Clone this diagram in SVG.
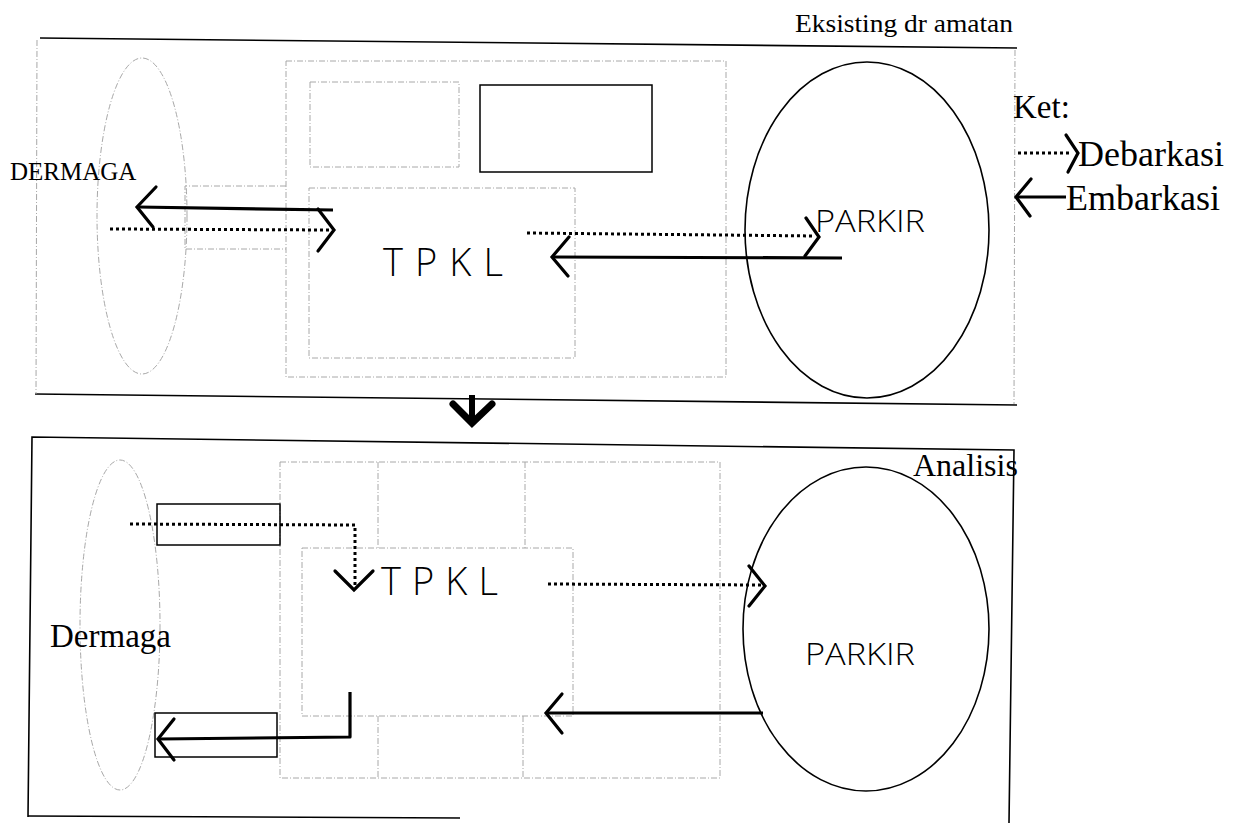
<svg xmlns="http://www.w3.org/2000/svg" width="1246" height="823" viewBox="0 0 1246 823">
<style>
.faint{fill:none;stroke:#a8a8a8;stroke-width:1;stroke-dasharray:6 2 1 2}
.thin{fill:none;stroke:#000;stroke-width:1.5}
.frame{fill:none;stroke:#000;stroke-width:1.6}
.solid{fill:none;stroke:#000;stroke-width:3.2;stroke-linejoin:round}
.dot{fill:none;stroke:#000;stroke-width:3;stroke-dasharray:3 3}
.head{fill:none;stroke:#000;stroke-width:3.2;stroke-linecap:round;stroke-linejoin:miter}
.serif{font-family:"Liberation Serif","Times New Roman",serif;fill:#000}
.hand{font-family:"Open Sans","DejaVu Sans",sans-serif;font-weight:300;fill:#000}
</style>
<rect width="1246" height="823" fill="#fff"/>
<g id="top-frame">
<path class="frame" d="M40 38 L1017 48"/>
<path class="frame" d="M35 394 L1017 405"/>
<path class="faint" d="M37 40 L36 394"/>
<path class="faint" d="M1015 50 L1014 404"/>
<text class="serif" x="795" y="32" font-size="26" textLength="218" lengthAdjust="spacingAndGlyphs">Eksisting dr amatan</text>
</g>
<g id="dermaga-top">
<ellipse class="faint" cx="142" cy="216" rx="45" ry="158"/>
<text class="serif" x="10" y="180" font-size="25">DERMAGA</text>
</g>
<g id="building-top">
<rect class="faint" x="286" y="61" width="440" height="316"/>
<rect class="faint" x="310" y="82" width="149" height="85"/>
<rect class="thin" x="480" y="85" width="172" height="87"/>
<path class="faint" d="M286 186 L185 186 L185 249 L286 249"/>
</g>
<g id="tpkl-top">
<rect class="faint" x="309" y="188" width="266" height="170"/>
<text class="hand" x="383" y="276" font-size="38" textLength="120" lengthAdjust="spacing">T P K L</text>
</g>
<g id="parkir-top">
<ellipse class="frame" cx="867" cy="230" rx="122" ry="168"/>
<text class="hand" x="815" y="232" font-size="32" textLength="110" lengthAdjust="spacingAndGlyphs">PARKIR</text>
</g>
<g id="legend">
<text class="serif" x="1013" y="118" font-size="33">Ket:</text>
<path class="dot" d="M1018 153 L1072 153" stroke-width="2.5" stroke-dasharray="2.5 2.5"/>
<path class="head" d="M1066 135 L1078 153 L1068 172"/>
<text class="serif" x="1078" y="166" font-size="36">Debarkasi</text>
<path class="solid" d="M1016 197 L1066 197" stroke-width="2.5"/>
<path class="head" d="M1031 179 L1016 197 L1030 216"/>
<text class="serif" x="1066" y="210" font-size="36">Embarkasi</text>
</g>
<g id="bottom-frame">
<path class="frame" d="M28 817 L32 437 L1014 450 L1009 823"/>
<path class="frame" d="M28 816 L460 818"/>
<text class="serif" x="913" y="476" font-size="32">Analisis</text>
</g>
<g id="dermaga-bottom">
<ellipse class="faint" cx="120" cy="625" rx="40" ry="165"/>
<text class="serif" x="50" y="647" font-size="33">Dermaga</text>
</g>
<g id="building-bottom">
<rect class="faint" x="280" y="462" width="440" height="316"/>
<path class="faint" d="M378 462 L378 548 M525 462 L525 548 M378 716 L378 778 M523 716 L523 778"/>
<rect class="thin" x="157" y="504" width="123" height="41"/>
<rect class="thin" x="155" y="713" width="122" height="44"/>
</g>
<g id="tpkl-bottom">
<rect class="faint" x="302" y="548" width="271" height="168"/>
<text class="hand" x="381" y="595" font-size="38" textLength="117" lengthAdjust="spacing">T P K L</text>
</g>
<g id="parkir-bottom">
<ellipse class="frame" cx="866" cy="629" rx="123" ry="162"/>
<text class="hand" x="805" y="665" font-size="32" textLength="110" lengthAdjust="spacingAndGlyphs">PARKIR</text>
</g>
<g id="connectors">
<path class="solid" d="M333 210 L138 207"/>
<path class="head" d="M156 187 L137 207 L153 227"/>
<path class="dot" d="M110 229 L332 230"/>
<path class="head" d="M318 209 L334 230 L318 251"/>
<path class="dot" d="M527 233 L815 236"/>
<path class="head" d="M806 218 L819 237 L805 256"/>
<path class="solid" d="M842 258 L553 257"/>
<path class="head" d="M569 237 L552 257 L568 276"/>
<path d="M472 395 L472 420" stroke="#000" stroke-width="6" fill="none"/>
<path d="M453 404 L472 423 L492 404" stroke="#000" stroke-width="7" fill="none" stroke-linecap="round"/>
<path class="dot" d="M130 524 L355 525 L355 587"/>
<path class="head" d="M335 571 L354 590 L373 571"/>
<path class="dot" d="M548 584 L762 585"/>
<path class="head" d="M749 566 L765 586 L749 606"/>
<path class="solid" d="M763 713 L547 713"/>
<path class="head" d="M562 694 L546 713 L562 733"/>
<path class="solid" d="M350 692 L350 737 L159 739"/>
<path class="head" d="M174 719 L158 739 L174 760"/>
</g>
</svg>
